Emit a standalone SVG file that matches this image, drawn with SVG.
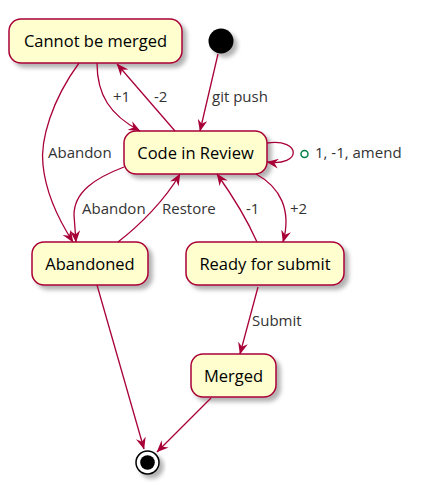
<svg xmlns="http://www.w3.org/2000/svg" width="434" height="485" viewBox="0 0 434 485">
<style>
.node rect{fill:#FEFECE;stroke:#A80036;stroke-width:1.5}
.nt{font-family:"Open Sans","DejaVu Sans",sans-serif;font-size:16.5px;fill:#000;text-anchor:middle}
.lt{font-family:"Open Sans","DejaVu Sans",sans-serif;font-size:15px;fill:#333}
.edges path{fill:none;stroke:#A80036;stroke-width:1.3;marker-end:url(#arr)}
</style>
<defs>
<filter id="sh" x="-20%" y="-20%" width="150%" height="160%">
<feDropShadow dx="4" dy="4" stdDeviation="2" flood-color="#000" flood-opacity="0.3"/>
</filter>
<marker id="arr" viewBox="0 0 12 10" refX="11.5" refY="5" markerWidth="12" markerHeight="10" markerUnits="userSpaceOnUse" orient="auto">
<path d="M0,0 L12,5 L0,10 L4,5 Z" fill="#A80036"/>
</marker>
</defs>
<g id="start"><circle cx="221" cy="41" r="12.5" fill="#000" filter="url(#sh)"/></g>
<g id="cannot" class="node"><rect x="9" y="19" width="173" height="44" rx="12" filter="url(#sh)"/><text class="nt" x="95.5" y="47">Cannot be merged</text></g>
<g id="review" class="node"><rect x="124" y="131" width="143" height="43" rx="12" filter="url(#sh)"/><text class="nt" x="195.5" y="158.5">Code in Review</text></g>
<g id="abandoned" class="node"><rect x="32" y="242" width="116" height="43" rx="12" filter="url(#sh)"/><text class="nt" x="90" y="269.5">Abandoned</text></g>
<g id="ready" class="node"><rect x="186" y="242" width="158" height="43" rx="12" filter="url(#sh)"/><text class="nt" x="265" y="269.5">Ready for submit</text></g>
<g id="merged" class="node"><rect x="191" y="354" width="85" height="43" rx="12" filter="url(#sh)"/><text class="nt" x="233.5" y="381.5">Merged</text></g>
<g id="end"><circle cx="147.5" cy="462.5" r="11.5" fill="#fff" stroke="#000" stroke-width="1.5" filter="url(#sh)"/><circle cx="147.5" cy="462.5" r="7.3" fill="#000"/></g>
<g class="edges" id="connectors">
<path d="M79,63 C52,100 40,140 43,165 C46,195 62,225 73,242"/>
<path d="M124,167 C95,178 74,192 74,215 L76,242"/>
<path d="M118,242 C140,225 165,200 180,174"/>
<path d="M97,63 C97,95 110,115 140,131"/>
<path d="M175,131 L117,64"/>
<path d="M218,54 L200,131"/>
<path d="M267,143 C302,138 302,167 267,162"/>
<path d="M256,174 C280,187 292,210 283,242"/>
<path d="M257,242 C245,215 232,195 217,174"/>
<path d="M258,287 L240,354"/>
<path d="M97,285 L144,449"/>
<path d="M211,398 L157,452"/>
</g>
<g id="labels">
<text class="lt" x="113" y="102">+1</text>
<text class="lt" x="154" y="102">-2</text>
<text class="lt" x="212" y="102">git push</text>
<text class="lt" x="48" y="158">Abandon</text>
<circle cx="304.5" cy="154" r="3.5" fill="none" stroke="#038048" stroke-width="1.5"/>
<text class="lt" x="315" y="158">1, -1, amend</text>
<text class="lt" x="82" y="214">Abandon</text>
<text class="lt" x="162" y="214">Restore</text>
<text class="lt" x="246" y="214">-1</text>
<text class="lt" x="290" y="214">+2</text>
<text class="lt" x="252" y="325.5">Submit</text>
</g>
</svg>
